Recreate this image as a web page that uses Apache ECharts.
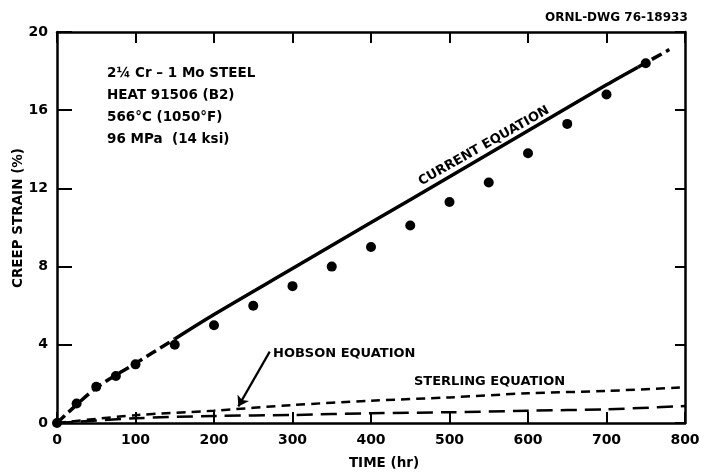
<!DOCTYPE html>
<html>
<head>
<meta charset="utf-8">
<script src="https://cdn.jsdelivr.net/npm/echarts@6/dist/echarts.min.js"></script>
<style>
  html, body { margin: 0; padding: 0; background: #fff; }
  #chart { width: 704px; height: 473px; }
</style>
</head>
<body>
<div id="chart"></div>
<script>
// Measured creep strain for heat 91506 at 566 °C / 96 MPa
const timeHr   = [0, 25, 50, 75, 100, 150, 200, 250, 300, 350, 400, 450, 500, 550, 600, 650, 700, 750];
const strainPct = [0, 1.0, 1.85, 2.4, 3.0, 4.0, 5.0, 6.0, 7.0, 8.0, 9.0, 10.1, 11.3, 12.3, 13.8, 15.3, 16.8, 18.4];

// Current equation fit (dashed where extrapolated at either end)
const currentHr     = [0, 50, 100, 150, 200, 300, 400, 500, 600, 700, 740, 780];
const currentStrain = [0, 1.8, 3.05, 4.3, 5.55, 7.9, 10.25, 12.6, 14.95, 17.3, 18.2, 19.1];
const currentSolidFrom = 150;
const currentSolidTo = 740;

// Hobson and Sterling equation predictions
const eqHr           = [0, 100, 200, 300, 400, 500, 600, 700, 800];
const hobsonStrain   = [0, 0.4, 0.63, 0.92, 1.14, 1.31, 1.52, 1.64, 1.83];
const sterlingStrain = [0, 0.24, 0.36, 0.41, 0.5, 0.55, 0.63, 0.7, 0.87];

// Axis ticks
const xTicks = [0, 100, 200, 300, 400, 500, 600, 700, 800];
const yTicks = [0, 4, 8, 12, 16, 20];

const pairs = (xs, ys) => xs.map((x, i) => [x, ys[i]]);
const currentPts = pairs(currentHr, currentStrain);
const seg = (lo, hi) => currentPts.filter(p => p[0] >= lo && p[0] <= hi);

const FONT = 'DejaVu Sans';
const INK = '#000';

const chart = echarts.init(document.getElementById('chart'), null, { renderer: 'canvas' });

const frameLine = { show: true, onZero: false, lineStyle: { color: INK, width: 2.5 } };

const baseX = {
  type: 'value', min: xTicks[0], max: xTicks[xTicks.length - 1], interval: 100,
  axisLine: frameLine,
  axisTick: { show: true, inside: true, length: 11, lineStyle: { color: INK, width: 2 } },
  splitLine: { show: false }
};
const baseY = {
  type: 'value', min: yTicks[0], max: yTicks[yTicks.length - 1], interval: 4,
  axisLine: frameLine,
  splitLine: { show: false }
};
const tickFont = { color: INK, fontFamily: FONT, fontWeight: 'bold', fontSize: 14 };

const option = {
  backgroundColor: '#fff',
  animation: false,
  grid: { left: 57, right: 19, top: 32, bottom: 50 },
  xAxis: [
    Object.assign({}, baseX, {
      position: 'bottom',
      axisLabel: Object.assign({ show: true, margin: 10 }, tickFont)
    }),
    Object.assign({}, baseX, { position: 'top', axisLabel: { show: false } })
  ],
  yAxis: [
    Object.assign({}, baseY, {
      position: 'left',
      axisTick: { show: true, inside: true, length: 15, lineStyle: { color: INK, width: 2 } },
      axisLabel: Object.assign({ show: true, margin: 9 }, tickFont)
    }),
    Object.assign({}, baseY, {
      position: 'right',
      axisTick: { show: true, inside: true, length: 10, lineStyle: { color: INK, width: 2 } },
      axisLabel: { show: false }
    })
  ],
  series: [
    {
      name: 'Current equation (early)', type: 'line', data: seg(0, currentSolidFrom),
      smooth: 0.3, symbol: 'none',
      lineStyle: { color: INK, width: 3.5, type: [11, 5] }, z: 3
    },
    {
      name: 'Current equation', type: 'line', data: seg(currentSolidFrom, currentSolidTo),
      smooth: 0.3, symbol: 'none',
      lineStyle: { color: INK, width: 3.5 }, z: 3
    },
    {
      name: 'Current equation (late)', type: 'line', data: seg(currentSolidTo, 800),
      smooth: 0.3, symbol: 'none',
      lineStyle: { color: INK, width: 3.5, type: [11, 5] }, z: 3
    },
    {
      name: 'Hobson equation', type: 'line', data: pairs(eqHr, hobsonStrain),
      smooth: 0.3, symbol: 'none',
      lineStyle: { color: INK, width: 2.5, type: [9, 6] }, z: 2,
      markLine: {
        silent: true, symbol: ['none', 'arrow'], symbolSize: 10,
        label: { show: false },
        lineStyle: { color: INK, width: 2.2, type: 'solid', curveness: 0.12 },
        data: [[{ coord: [271, 3.65] }, { coord: [231, 0.85] }]]
      }
    },
    {
      name: 'Sterling equation', type: 'line', data: pairs(eqHr, sterlingStrain),
      smooth: 0.3, symbol: 'none',
      lineStyle: { color: INK, width: 2.5, type: [16, 8] }, z: 2
    },
    {
      name: 'Data', type: 'scatter', data: pairs(timeHr, strainPct),
      symbol: 'circle', symbolSize: 10,
      itemStyle: { color: INK, opacity: 1 }, z: 5
    }
  ],
  graphic: [
    {
      type: 'text', left: 545, top: 12,
      style: { text: 'ORNL-DWG 76-18933', font: 'bold 12px "DejaVu Sans"', fill: INK }
    },
    {
      type: 'text', left: 107, top: 62,
      style: {
        text: '2¼ Cr – 1 Mo STEEL\nHEAT 91506 (B2)\n566°C (1050°F)\n96 MPa  (14 ksi)',
        font: 'bold 13.5px "DejaVu Sans"', lineHeight: 22, fill: INK
      }
    },
    {
      type: 'text', x: 484, y: 146, rotation: 29.5 * Math.PI / 180,
      style: { text: 'CURRENT EQUATION', font: 'bold 13px "DejaVu Sans"', fill: INK, align: 'center', verticalAlign: 'middle' }
    },
    {
      type: 'text', left: 273, top: 347,
      style: { text: 'HOBSON EQUATION', font: 'bold 13px "DejaVu Sans"', fill: INK }
    },
    {
      type: 'text', left: 414, top: 375,
      style: { text: 'STERLING EQUATION', font: 'bold 13px "DejaVu Sans"', fill: INK }
    },
    {
      type: 'text', x: 18, y: 218, rotation: Math.PI / 2,
      style: { text: 'CREEP STRAIN (%)', font: 'bold 13.5px "DejaVu Sans"', fill: INK, align: 'center', verticalAlign: 'middle' }
    },
    {
      type: 'text', x: 384, y: 463,
      style: { text: 'TIME (hr)', font: 'bold 13.5px "DejaVu Sans"', fill: INK, align: 'center', verticalAlign: 'middle' }
    }
  ]
};

chart.setOption(option);
</script>
</body>
</html>
